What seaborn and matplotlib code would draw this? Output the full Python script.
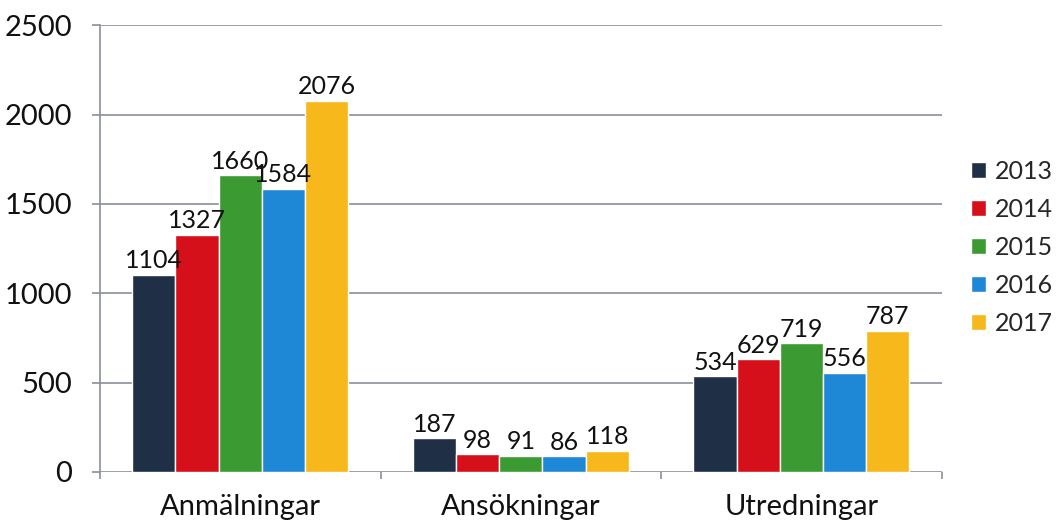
import seaborn as sns
import matplotlib.pyplot as plt
import pandas as pd

# Data
categories = ['Anmälningar', 'Ansökningar', 'Utredningar']
years = ['2013', '2014', '2015', '2016', '2017']
values_2013 = [1104, 187, 534]
values_2014 = [1327, 98, 629]
values_2015 = [1660, 91, 719]
values_2016 = [1584, 86, 556]
values_2017 = [2076, 118, 787]

series = [values_2013, values_2014, values_2015, values_2016, values_2017]
rows = []
for year, vals in zip(years, series):
    for cat, v in zip(categories, vals):
        rows.append({'category': cat, 'year': year, 'value': v})
df = pd.DataFrame(rows)

# Colors
palette = ['#1f2f45', '#d6101b', '#3b9a31', '#1f88d6', '#f6b81a']
grid_color = '#8a8f98'
text_color = '#111111'

sns.set_style('white')
plt.rcParams['font.family'] = ['Lato', 'DejaVu Sans']

fig = plt.figure(figsize=(10.64, 5.26), dpi=100)
ax = fig.add_axes([0.094, 0.103, 0.791, 0.849])

sns.barplot(data=df, x='category', y='value', hue='year', palette=palette,
            width=0.77, gap=0, saturation=1, ax=ax, legend=True)

# Value labels
for container in ax.containers:
    ax.bar_label(container, fmt='%d', padding=2, fontsize=18, color=text_color)

ax.set_ylim(0, 2500)
ax.set_yticks(range(0, 2501, 500))
ax.set_xlim(-0.5, 2.5)
ax.set_xlabel('')
ax.set_ylabel('')

# Grid and spines
ax.yaxis.grid(True, color=grid_color, linewidth=1.2)
ax.set_axisbelow(True)
for side in ['top', 'right', 'bottom']:
    ax.spines[side].set_visible(False)
ax.spines['left'].set_color(grid_color)
ax.spines['left'].set_linewidth(1.2)

ax.tick_params(axis='y', left=True, colors=text_color, labelsize=21, length=6,
               color=grid_color, width=1.2, direction='out', pad=14)
ax.tick_params(axis='x', colors=text_color, labelsize=21, length=0, pad=16)

# small tick marks at category boundaries
ax.set_xticks([-0.5, 0.5, 1.5, 2.5], minor=True)
ax.tick_params(axis='x', which='minor', bottom=True, length=5,
               color=grid_color, width=1.2, direction='out')

# Legend on the right
handles, labels = ax.get_legend_handles_labels()
ax.get_legend().remove()
fig.legend(handles, labels, loc='center left', bbox_to_anchor=(0.913, 0.53),
           frameon=False, fontsize=18, handlelength=0.6, handleheight=0.6,
           handletextpad=0.35, labelspacing=0.6, borderpad=0, borderaxespad=0)

plt.savefig('out.png', dpi=100)
